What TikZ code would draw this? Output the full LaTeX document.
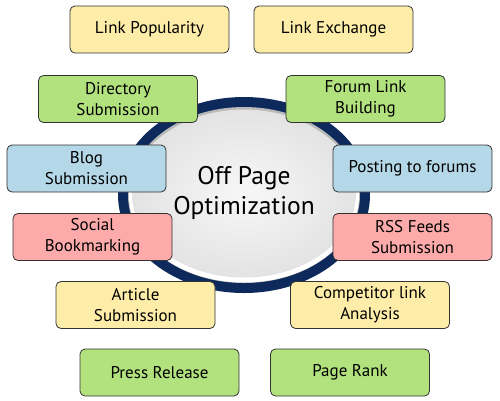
\documentclass[tikz,border=0pt]{standalone}
\usepackage{fontspec}
\setmainfont{PT Sans}
\usetikzlibrary{shadings}
\definecolor{cyellow}{HTML}{FEEDA9}
\definecolor{cgreen}{HTML}{B2E27E}
\definecolor{cblue}{HTML}{B4D8E7}
\definecolor{cpink}{HTML}{FDAAAA}
\definecolor{cnavy}{HTML}{0E2A5C}
\definecolor{cborder}{HTML}{333333}
\tikzset{
  item/.style={draw=cborder, line width=0.8pt, rounded corners=5pt,
    minimum width=159pt, minimum height=47pt, inner sep=1pt, align=center,
    font=\fontsize{17}{21}\selectfont, text=black},
  yel/.style={item, fill=cyellow},
  grn/.style={item, fill=cgreen},
  blu/.style={item, fill=cblue},
  pnk/.style={item, fill=cpink},
}
\begin{document}
\begin{tikzpicture}[x=1pt,y=-1pt]
\useasboundingbox (0,0) rectangle (500,400);
\fill[white] (0,0) rectangle (500,400);
% central disc
\fill[cnavy] (244,195) ellipse [x radius=126, y radius=98];
\fill[gray!55] (244,195) ellipse [x radius=116, y radius=88];
\fill[white] (244,196.5) ellipse [x radius=115, y radius=86];
\shade[inner color=gray!6, outer color=gray!22] (244,193.5) ellipse [x radius=112, y radius=84];
\node[font=\fontsize{25.5}{29.5}\selectfont, align=center] (center) at (244,193) {Off Page\\Optimization};
% boxes
\node[yel] (lp) at (149.5,29.5) {Link Popularity};
\node[yel] (le) at (333.5,29.5) {Link Exchange};
\node[grn] (ds) at (118,99) {Directory\\Submission};
\node[grn] (fl) at (365.5,99) {Forum Link\\Building};
\node[blu] (bs) at (86.5,168.5) {Blog\\Submission};
\node[blu] (pf) at (412.5,168.5) {Posting to forums};
\node[pnk] (sb) at (92.5,237) {Social\\Bookmarking};
\node[pnk] (rss) at (412.5,237) {RSS Feeds\\Submission};
\node[yel] (as) at (135.5,305) {Article\\Submission};
\node[yel] (cl) at (370,305) {Competitor link\\Analysis};
\node[grn] (pr) at (159.5,372.5) {Press Release};
\node[grn] (rank) at (350,372.5) {Page Rank};
\end{tikzpicture}
\end{document}
